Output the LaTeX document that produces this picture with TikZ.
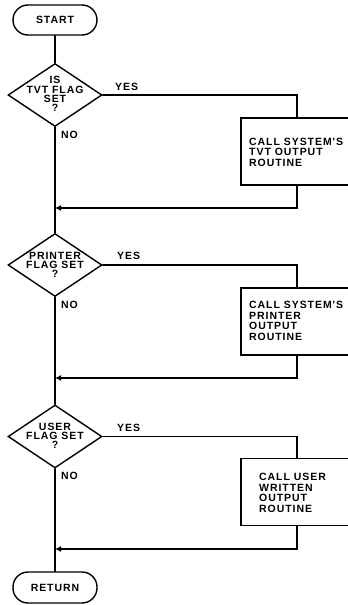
\documentclass[tikz,border=0pt]{standalone}
\usepackage{fontspec}
\newfontfamily\lf{Liberation Sans}[LetterSpace=9]
\usetikzlibrary{shapes.geometric,arrows.meta}
\begin{document}
\begin{tikzpicture}[x=1pt,y=-1pt,
  every node/.style={font=\lf\bfseries\fontsize{10.5}{9.3}\selectfont},
  flow/.style={line width=1.4pt,line cap=round},
  term/.style={draw,line width=1.4pt,rectangle,rounded corners=15pt,minimum width=84pt,minimum height=30pt,inner sep=0pt},
  dec/.style={draw,line width=1.4pt,diamond,minimum width=94pt,minimum height=63pt,inner sep=0pt},
  dectext/.style={align=center,inner sep=0pt},
  proc/.style={draw,line width=1.4pt,rectangle,minimum width=112pt,minimum height=67pt,inner sep=0pt},
  proctext/.style={align=left,anchor=west,inner sep=0pt,font=\lf\bfseries\fontsize{10.5}{10.5}\selectfont},
  lbl/.style={anchor=west,inner sep=0pt},
  tip/.style={-{Latex[length=6pt,width=6pt]}}
]
\useasboundingbox (0,0) rectangle (348,605);

% terminals
\node[term] (start) at (55,20) {START};
\node[term,minimum height=31pt] (ret) at (55,587.5) {RETURN};

% decisions
\node[dec] (d1) at (55,95) {};
\node[dectext] (t1) at (55,94) {IS\\TVT FLAG\\SET\\?};
\node[dec] (d2) at (55,265) {};
\node[dectext] (t2) at (55,265) {PRINTER\\FLAG SET\\?};
\node[dec] (d3) at (55,436.5) {};
\node[dectext] (t3) at (55,436) {USER\\FLAG SET\\?};

% process boxes
\node[proc] (b1) at (297,151.5) {};
\node[proctext] (p1) at (249,152) {CALL SYSTEM'S\\TVT OUTPUT\\ROUTINE};
\node[proc] (b2) at (297,321.5) {};
\node[proctext] (p2) at (249,321) {CALL SYSTEM'S\\PRINTER\\OUTPUT\\ROUTINE};
\node[proc] (b3) at (297,492) {};
\node[proctext] (p3) at (259,493) {CALL USER\\WRITTEN\\OUTPUT\\ROUTINE};

% labels
\node[lbl] (y1) at (115,87) {YES};
\node[lbl] (n1) at (61,135) {NO};
\node[lbl] (y2) at (117,256) {YES};
\node[lbl] (n2) at (61,305) {NO};
\node[lbl] (y3) at (117,428) {YES};
\node[lbl] (n3) at (61,476) {NO};

% junctions
\coordinate (j1) at (55,208);
\coordinate (j2) at (55,378);
\coordinate (j3) at (55,549);

% main line
\draw[flow] (start) -- (d1);
\draw[flow] (d1.south) -- (j1) -- (d2.north);
\draw[flow] (d2.south) -- (j2) -- (d3.north);
\draw[flow] (d3.south) -- (j3) -- (ret.north);

% yes branches
\draw[flow] (d1.east) -| (b1.north);
\draw[flow,tip] (b1.south) |- (j1);
\draw[flow] (d2.east) -| (b2.north);
\draw[flow,tip] (b2.south) |- (j2);
\draw[flow] (d3.east) -| (b3.north);
\draw[flow,tip] (b3.south) |- (j3);
\end{tikzpicture}
\end{document}
